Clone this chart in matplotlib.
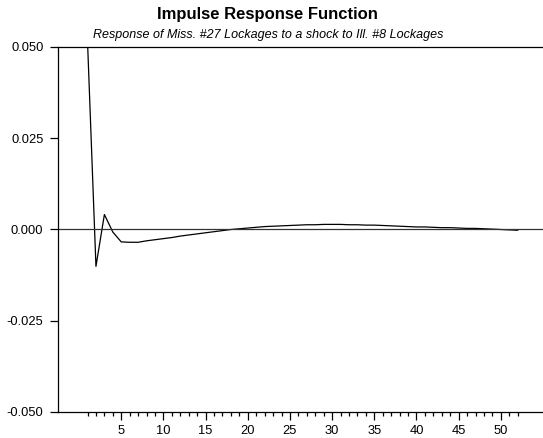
import matplotlib
matplotlib.use("Agg")
import matplotlib.pyplot as plt
from matplotlib.ticker import FixedLocator, FormatStrFormatter

plt.rcParams['font.family'] = ['Liberation Sans', 'DejaVu Sans']

periods = list(range(1, 53))
response = [0.0515, -0.0101, 0.0041, -0.0007, -0.0034, -0.0035, -0.0035, -0.0031,
            -0.0028, -0.0025, -0.0022, -0.0018, -0.0015, -0.0012, -0.0009, -0.0006,
            -0.0003, 0.0000, 0.0002, 0.0004, 0.0006, 0.0008, 0.0009, 0.0010,
            0.0011, 0.0012, 0.0013, 0.0013, 0.0014, 0.0014, 0.0014, 0.0013,
            0.0013, 0.0012, 0.0012, 0.0011, 0.0010, 0.0009, 0.0008, 0.0007,
            0.0007, 0.0006, 0.0005, 0.0005, 0.0004, 0.0003, 0.0003, 0.0002,
            0.0001, 0.0000, -0.0001, -0.0002]
y_ticks = [-0.050, -0.025, 0.000, 0.025, 0.050]
x_major = [5, 10, 15, 20, 25, 30, 35, 40, 45, 50]

fig = plt.figure(figsize=(5.43, 4.38), dpi=100)
ax = fig.add_axes([58/543, 1 - 412/438, 1 - 58/543, (412 - 47)/438])

ax.plot(periods, response, color='black', lw=0.9, clip_on=True)
ax.axhline(0, color='#333333', lw=0.9)

ax.set_xlim(-2.5, 55)
ax.set_ylim(-0.05, 0.05)

ax.spines['right'].set_visible(False)
for s in ['left', 'top', 'bottom']:
    ax.spines[s].set_linewidth(0.9)
    ax.spines[s].set_color('black')

ax.yaxis.set_major_locator(FixedLocator(y_ticks))
ax.yaxis.set_major_formatter(FormatStrFormatter('%.3f'))
ax.xaxis.set_major_locator(FixedLocator(x_major))
ax.xaxis.set_minor_locator(FixedLocator([p for p in periods if p not in x_major]))
ax.tick_params(axis='y', length=6, width=0.9, pad=4.5, labelsize=9.3)
ax.tick_params(axis='x', which='major', length=6, width=0.9, pad=3, labelsize=9.3)
ax.tick_params(axis='x', which='minor', length=3, width=0.9)

fig.text(0.493, 1 - 15/438, 'Impulse Response Function', ha='center', va='center',
         fontsize=12, fontweight='bold')
fig.text(0.493, 1 - 35/438, 'Response of Miss. #27 Lockages to a shock to Ill. #8 Lockages',
         ha='center', va='center', fontsize=9, style='italic')

fig.savefig('out.png', dpi=100)
